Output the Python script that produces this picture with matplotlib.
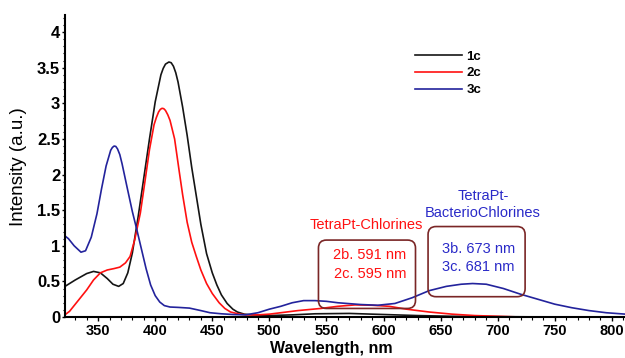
import matplotlib
matplotlib.use("Agg")
import matplotlib.pyplot as plt
from matplotlib.patches import FancyBboxPatch
from matplotlib.ticker import MultipleLocator

plt.rcParams['font.family'] = ['Liberation Sans', 'DejaVu Sans']

# spectra (wavelength nm, intensity a.u.)
wl_1c = [320, 330, 340, 346, 352, 358, 363, 368, 372, 376, 380, 385, 390, 395,
         400, 405, 407, 409, 412, 414, 416, 418, 420, 424, 428, 432, 436, 440,
         445, 450, 454, 458, 463, 468, 472, 478, 485, 500, 520, 540, 570, 600,
         630, 660, 700, 750, 812]
int_1c = [0.42, 0.52, 0.61, 0.64, 0.62, 0.54, 0.46, 0.43, 0.47, 0.62, 0.90,
          1.40, 1.95, 2.50, 3.02, 3.40, 3.49, 3.55, 3.58, 3.57, 3.52, 3.43,
          3.30, 2.95, 2.55, 2.10, 1.70, 1.30, 0.89, 0.62, 0.45, 0.31, 0.19,
          0.11, 0.07, 0.04, 0.03, 0.02, 0.03, 0.045, 0.05, 0.035, 0.02, 0.01,
          0.005, 0.0, 0.0]

wl_2c = [320, 325, 330, 340, 346, 352, 358, 364, 369, 374, 378, 382, 387, 391,
         395, 399, 401, 403, 404.5, 406, 407.5, 409, 411, 413, 417, 421, 424,
         428, 432, 436, 440, 445, 450, 456, 461, 466, 474, 480, 490, 500, 510,
         525, 545, 560, 575, 590, 605, 620, 640, 660, 680, 700, 720, 812]
int_2c = [0.02, 0.08, 0.18, 0.38, 0.52, 0.62, 0.66, 0.68, 0.70, 0.76, 0.85,
          1.08, 1.46, 1.90, 2.35, 2.70, 2.80, 2.88, 2.915, 2.93, 2.925, 2.90,
          2.84, 2.76, 2.50, 2.05, 1.72, 1.33, 1.05, 0.85, 0.66, 0.47, 0.33,
          0.20, 0.12, 0.07, 0.04, 0.03, 0.03, 0.04, 0.06, 0.09, 0.12, 0.15,
          0.17, 0.165, 0.15, 0.11, 0.07, 0.04, 0.02, 0.01, 0.0, 0.0]

wl_3c = [320, 324, 329, 335, 339, 344, 349, 353, 357, 361, 362.5, 364, 365.5,
         367, 369, 371, 375, 380, 384, 388, 392, 396, 400, 404, 408, 413, 420,
         430, 440, 448, 458, 468, 479, 490, 500, 510, 520, 530, 540, 550, 560,
         580, 595, 610, 625, 640, 655, 668, 678, 690, 705, 720, 735, 750, 765,
         780, 795, 812]
int_3c = [1.15, 1.10, 1.00, 0.91, 0.93, 1.12, 1.45, 1.80, 2.12, 2.34, 2.38,
          2.40, 2.395, 2.36, 2.28, 2.15, 1.85, 1.48, 1.22, 0.95, 0.68, 0.45,
          0.30, 0.21, 0.16, 0.14, 0.135, 0.125, 0.09, 0.06, 0.045, 0.035,
          0.03, 0.06, 0.11, 0.15, 0.20, 0.23, 0.23, 0.22, 0.20, 0.175, 0.165,
          0.19, 0.27, 0.37, 0.43, 0.46, 0.47, 0.46, 0.40, 0.32, 0.25, 0.18,
          0.13, 0.09, 0.06, 0.04]

RED = '#ff1010'
BLUE = '#23239c'
TXT_BLUE = '#2a2ac8'
BOX = '#7a2626'

fig = plt.figure(figsize=(6.25, 3.58), dpi=100)
ax = fig.add_axes([65 / 625, 41 / 358, 560 / 625, 302 / 358])

ax.plot(wl_1c, int_1c, color='#151515', lw=1.2, label='1c')
ax.plot(wl_2c, int_2c, color=RED, lw=1.2, label='2c')
ax.plot(wl_3c, int_3c, color=BLUE, lw=1.2, label='3c')

ax.set_xlim(321, 811.5)
ax.set_ylim(0, 4.24)

for s in ('top', 'right'):
    ax.spines[s].set_visible(False)
for s in ('left', 'bottom'):
    ax.spines[s].set_linewidth(1.5)

ax.xaxis.set_major_locator(MultipleLocator(50))
ax.xaxis.set_minor_locator(MultipleLocator(10))
ax.yaxis.set_minor_locator(MultipleLocator(0.1))
ax.set_yticks([0, 0.5, 1, 1.5, 2, 2.5, 3, 3.5, 4])
ax.set_yticklabels(['0', '0.5', '1', '1.5', '2', '2.5', '3', '3.5', '4'])
ax.tick_params(axis='x', which='major', length=3, width=1, pad=2)
ax.tick_params(axis='x', which='minor', length=2, width=0.8)
ax.tick_params(axis='y', which='major', length=2.5, width=1, pad=1)
ax.tick_params(axis='y', which='minor', length=1.8, width=0.8)
for lab in ax.get_xticklabels():
    lab.set_fontsize(10.5)
    lab.set_fontweight('bold')
for lab in ax.get_yticklabels():
    lab.set_fontsize(12)
    lab.set_fontweight('bold')

# reference crops this label at the bottom edge; keep it just inside
ax.set_xlabel('Wavelength, nm', fontsize=11.5, fontweight='bold')
ax.xaxis.set_label_coords(0.475, -0.079)
ax.set_ylabel('Intensity (a.u.)', fontsize=13.5)
ax.yaxis.set_label_coords(-0.068, 0.497)

leg = ax.legend(loc='upper left', bbox_to_anchor=(0.614, 0.905), frameon=False,
                borderpad=0, handlelength=3.5, handletextpad=0.35,
                labelspacing=0.35, prop={'size': 9.5, 'weight': 'bold'})

# annotation boxes (data coords, rounded corners)
for x0, x1, y0, y1 in [(543, 628, 0.12, 1.08), (639, 724, 0.285, 1.27)]:
    ax.add_patch(FancyBboxPatch((x0, y0), x1 - x0, y1 - y0,
                                boxstyle='round,pad=0,rounding_size=7',
                                mutation_aspect=0.016, fill=False,
                                edgecolor=BOX, lw=1.2, zorder=3))

ax.text(585, 1.29, 'TetraPt-Chlorines', color=RED, fontsize=10.5,
        ha='center', va='center')
ax.text(588, 0.87, '2b. 591 nm', color=RED, fontsize=10.5, ha='center', va='center')
ax.text(588, 0.61, '2c. 595 nm', color=RED, fontsize=10.5, ha='center', va='center')
ax.text(687, 1.58, 'TetraPt-\nBacterioChlorines', color=TXT_BLUE, fontsize=10.5,
        ha='center', va='center', linespacing=1.25)
ax.text(683, 0.96, '3b. 673 nm', color=TXT_BLUE, fontsize=10.5, ha='center', va='center')
ax.text(683, 0.70, '3c. 681 nm', color=TXT_BLUE, fontsize=10.5, ha='center', va='center')

fig.savefig('out.png', dpi=100)
